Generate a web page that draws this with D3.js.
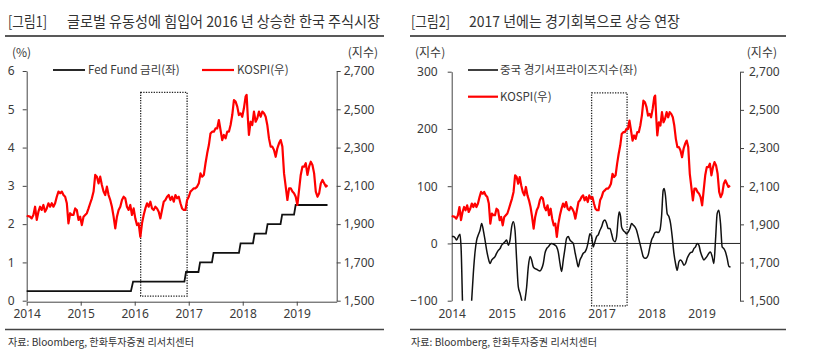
<!DOCTYPE html>
<html><head><meta charset="utf-8">
<script src="https://cdn.jsdelivr.net/npm/d3@7/dist/d3.min.js"></script>
<style>
html,body{margin:0;padding:0;background:#fff;}
svg{display:block;font-family:"Noto Sans CJK KR","Noto Sans",sans-serif;}
</style></head>
<body><svg id="c" width="822" height="357"></svg>
<script>
// ---------- DATA ----------
const yearTicks = [2014, 2015, 2016, 2017, 2018, 2019];
const fedTicks = [0, 1, 2, 3, 4, 5, 6];
const kospiTicks = [1500, 1700, 1900, 2100, 2300, 2500, 2700];
const surpriseTicks = [-100, 0, 100, 200, 300];

// KOSPI (decimal year, index)
const kospiT = [2014.000,2014.062,2014.093,2014.124,2014.155,2014.186,2014.217,2014.248,2014.278,2014.309,2014.340,2014.371,2014.402,2014.433,2014.464,2014.495,2014.526,2014.557,2014.588,2014.619,2014.650,2014.681,2014.712,2014.743,2014.773,2014.804,2014.835,2014.866,2014.897,2014.928,2014.959,2014.990,2015.021,2015.052,2015.083,2015.114,2015.145,2015.176,2015.207,2015.238,2015.269,2015.300,2015.330,2015.361,2015.392,2015.423,2015.454,2015.485,2015.516,2015.547,2015.578,2015.609,2015.640,2015.671,2015.702,2015.733,2015.764,2015.795,2015.825,2015.856,2015.887,2015.918,2015.949,2015.980,2016.011,2016.042,2016.073,2016.104,2016.135,2016.166,2016.197,2016.228,2016.259,2016.290,2016.321,2016.351,2016.382,2016.413,2016.444,2016.475,2016.506,2016.537,2016.568,2016.599,2016.630,2016.661,2016.692,2016.723,2016.754,2016.785,2016.816,2016.847,2016.877,2016.908,2016.939,2016.970,2017.001,2017.032,2017.063,2017.094,2017.125,2017.156,2017.187,2017.218,2017.249,2017.280,2017.311,2017.342,2017.373,2017.403,2017.434,2017.465,2017.496,2017.527,2017.558,2017.589,2017.620,2017.651,2017.682,2017.713,2017.744,2017.775,2017.806,2017.837,2017.868,2017.899,2017.929,2017.960,2017.991,2018.022,2018.053,2018.072,2018.097,2018.115,2018.146,2018.177,2018.208,2018.239,2018.270,2018.301,2018.332,2018.363,2018.394,2018.425,2018.455,2018.486,2018.517,2018.548,2018.579,2018.610,2018.641,2018.672,2018.703,2018.734,2018.765,2018.796,2018.827,2018.858,2018.889,2018.920,2018.950,2018.981,2019.012,2019.043,2019.074,2019.105,2019.136,2019.167,2019.198,2019.229,2019.260,2019.291,2019.322,2019.353,2019.384,2019.415,2019.446,2019.477,2019.508,2019.539,2019.569];
const kospiV = [1944,1939,1930,1948,1991,1922,1965,1991,1974,2000,1965,1982,2009,1991,2009,1991,2009,2043,2070,2061,2070,2052,2043,2009,1904,1957,1948,1948,1982,1974,1922,1939,1895,1939,1948,1957,1982,2009,2035,2070,2157,2148,2113,2148,2104,2070,2052,2096,2052,2026,1991,1939,1878,1939,1974,1991,2026,2043,2035,1991,1974,2000,1948,1982,1930,1895,1904,1834,1904,1948,1982,2009,1991,2017,1982,1974,1991,1982,1965,1930,1974,2017,2026,2043,2052,2026,2043,2017,2052,2035,2043,2009,1982,1974,1974,2026,2043,2070,2078,2087,2087,2096,2113,2165,2148,2157,2218,2270,2313,2374,2383,2383,2400,2400,2444,2392,2339,2366,2348,2383,2383,2418,2470,2548,2540,2514,2470,2479,2461,2505,2566,2575,2444,2366,2435,2418,2488,2435,2453,2488,2461,2488,2479,2461,2418,2348,2305,2305,2287,2252,2296,2322,2339,2305,2165,2096,2026,2087,2087,2070,2061,2043,2000,2078,2157,2200,2200,2218,2157,2200,2226,2209,2165,2070,2043,2061,2113,2131,2113,2096,2104];

// Fed Fund rate (decimal year, %)
const fedT = [2014.00,2015.93,2015.97,2016.92,2016.95,2017.18,2017.21,2017.43,2017.46,2017.93,2017.96,2018.19,2018.22,2018.43,2018.46,2018.70,2018.73,2018.95,2018.98,2019.57];
const fedV = [0.25,0.25,0.5,0.5,0.75,0.75,1.0,1.0,1.25,1.25,1.5,1.5,1.75,1.75,2.0,2.0,2.25,2.25,2.5,2.5];

// China economic surprise index (decimal year, index)
const csT = [2014.000,2014.033,2014.067,2014.100,2014.133,2014.167,2014.187,2014.233,2014.300,2014.367,2014.400,2014.433,2014.467,2014.500,2014.533,2014.567,2014.600,2014.633,2014.667,2014.700,2014.733,2014.767,2014.800,2014.833,2014.867,2014.900,2014.933,2014.967,2015.000,2015.033,2015.067,2015.100,2015.133,2015.167,2015.200,2015.233,2015.267,2015.300,2015.333,2015.367,2015.400,2015.433,2015.467,2015.500,2015.533,2015.567,2015.600,2015.633,2015.667,2015.700,2015.733,2015.767,2015.800,2015.833,2015.867,2015.900,2015.933,2015.967,2016.000,2016.033,2016.067,2016.100,2016.133,2016.167,2016.200,2016.233,2016.267,2016.300,2016.333,2016.367,2016.400,2016.433,2016.467,2016.500,2016.533,2016.567,2016.600,2016.633,2016.667,2016.700,2016.733,2016.767,2016.800,2016.833,2016.867,2016.900,2016.933,2016.967,2017.000,2017.033,2017.067,2017.100,2017.133,2017.167,2017.200,2017.233,2017.267,2017.300,2017.333,2017.353,2017.380,2017.400,2017.433,2017.467,2017.500,2017.533,2017.567,2017.600,2017.633,2017.667,2017.700,2017.733,2017.767,2017.800,2017.833,2017.867,2017.900,2017.933,2017.967,2018.000,2018.033,2018.067,2018.100,2018.133,2018.167,2018.200,2018.233,2018.253,2018.280,2018.313,2018.347,2018.380,2018.413,2018.447,2018.480,2018.513,2018.547,2018.580,2018.613,2018.647,2018.680,2018.713,2018.747,2018.780,2018.813,2018.847,2018.880,2018.913,2018.947,2018.980,2019.013,2019.047,2019.080,2019.113,2019.147,2019.180,2019.213,2019.247,2019.280,2019.313,2019.347,2019.380,2019.413,2019.447,2019.480,2019.513,2019.547,2019.580];
const csV = [12,12,10,6,12,16,-6,-140,-150,-140,-99,-52,-15,6,15,23,35,23,6,-12,-26,-35,-29,-26,-23,-17,-12,-9,-3,0,3,6,-3,6,29,38,23,-29,-76,-87,-99,-115,-99,-76,-41,-23,-29,-41,-44,-45,-47,-48,-44,-35,-17,-9,-6,-2,0,-1,-3,-6,-15,-35,-49,-29,-9,9,12,6,3,0,-15,-29,-41,-29,-23,-17,-15,-9,3,17,12,-6,3,12,15,23,29,38,41,35,26,26,17,6,3,12,44,55,47,29,23,20,17,20,26,35,32,29,23,12,0,-12,-23,-26,-25,-20,-6,6,12,19,20,19,23,47,93,96,82,52,47,35,12,-17,-35,-47,-32,-29,-32,-38,-35,-26,-20,-16,-15,-9,-6,0,-3,-15,-23,-29,-26,-22,-17,-15,-23,-35,6,52,58,35,-6,-9,-15,-26,-40,-41];

// highlighted periods [from, to] (decimal year) and value extents
const box1 = {x0: 2016.11, x1: 2016.97, y0: 0.12, y1: 5.44};
const box2 = {x0: 2016.80, x1: 2017.51, y0: -109, y1: 263};

// ---------- DRAW ----------
const svg = d3.select("#c");
const txtCol = "#3a3a3a";
const axCol = "#444";
const RED = "#ff0000";

function title(x, tag, text, tx, tlen, lineX0, lineX1) {
  svg.append("text").attr("x", x).attr("y", 27).attr("font-size", 15).attr("fill", "#333")
    .attr("textLength", 39).attr("lengthAdjust", "spacingAndGlyphs").text(tag);
  svg.append("text").attr("x", tx).attr("y", 27).attr("font-size", 15).attr("fill", "#333")
    .attr("textLength", tlen).attr("lengthAdjust", "spacingAndGlyphs").text(text);
  svg.append("line").attr("x1", lineX0).attr("x2", lineX1).attr("y1", 36).attr("y2", 36)
    .attr("stroke", "#222").attr("stroke-width", 1.3);
  svg.append("line").attr("x1", lineX0).attr("x2", lineX1).attr("y1", 329.5).attr("y2", 329.5)
    .attr("stroke", "#444").attr("stroke-width", 1.3);
  svg.append("text").attr("x", x).attr("y", 346).attr("font-size", 10.5).attr("fill", "#333")
    .attr("textLength", 186).attr("lengthAdjust", "spacingAndGlyphs").text("자료: Bloomberg, 한화투자증권 리서치센터");
}
title(8, "[그림1]", "글로벌 유동성에 힘입어 2016 년 상승한 한국 주식시장", 67, 313, 5, 384);
title(411, "[그림2]", "2017 년에는 경기회복으로 상승 연장", 469, 211, 410, 786);

function styleAxis(g) {
  g.selectAll("path.domain").attr("stroke", axCol).attr("stroke-width", 1);
  g.selectAll(".tick line").attr("stroke", axCol);
  g.selectAll(".tick text").attr("fill", txtCol).attr("font-size", 12)
    .attr("font-family", '"Noto Sans","Noto Sans CJK KR",sans-serif');
}

// ===== Chart 1 =====
{
  const x = d3.scaleLinear().domain([2014, 2019.74]).range([26.7, 336.7]);
  const yL = d3.scaleLinear().domain([0, 6]).range([300.7, 71]);
  const yR = d3.scaleLinear().domain([1500, 2700]).range([300.7, 71]);

  svg.append("text").attr("x", 12).attr("y", 57).attr("font-size", 12).attr("fill", txtCol).text("(%)");
  svg.append("text").attr("x", 378).attr("y", 57).attr("font-size", 12).attr("fill", txtCol)
    .attr("text-anchor", "end").text("(지수)");

  const gl = svg.append("g").attr("transform", `translate(${x.range()[0]},0)`)
    .call(d3.axisLeft(yL).tickValues(fedTicks).tickSize(4).tickSizeOuter(0).tickPadding(8).tickFormat(d3.format("d")));
  styleAxis(gl);
  const gr = svg.append("g").attr("transform", `translate(${x.range()[1]},0)`)
    .call(d3.axisRight(yR).tickValues(kospiTicks).tickSize(4).tickSizeOuter(0).tickPadding(3).tickFormat(d3.format(",")));
  styleAxis(gr);
  const gb = svg.append("g").attr("transform", `translate(0,${yL(0) + 1})`)
    .call(d3.axisBottom(x).tickValues(yearTicks).tickSize(4).tickSizeOuter(0).tickPadding(4).tickFormat(d3.format("d")));
  styleAxis(gb);

  // highlight box
  svg.append("rect").attr("x", x(box1.x0)).attr("y", yL(box1.y1))
    .attr("width", x(box1.x1) - x(box1.x0)).attr("height", yL(box1.y0) - yL(box1.y1))
    .attr("fill", "none").attr("stroke", "#222").attr("stroke-width", 1.3).attr("stroke-dasharray", "1.3,1.3");

  const fed = fedT.map((t, i) => [t, fedV[i]]);
  svg.append("path").datum(fed).attr("fill", "none").attr("stroke", "#111").attr("stroke-width", 1.8)
    .attr("d", d3.line().x(d => x(d[0])).y(d => yL(d[1])));

  const ks = kospiT.map((t, i) => [t, kospiV[i]]);
  svg.append("path").datum(ks).attr("fill", "none").attr("stroke", RED).attr("stroke-width", 2.2)
    .attr("stroke-linejoin", "round")
    .attr("d", d3.line().x(d => x(d[0])).y(d => yR(d[1])));

  // legend
  svg.append("line").attr("x1", 53).attr("x2", 85).attr("y1", 70).attr("y2", 70).attr("stroke", "#111").attr("stroke-width", 1.8);
  svg.append("text").attr("x", 88).attr("y", 74).attr("font-size", 11.5).attr("fill", txtCol).text("Fed Fund 금리(좌)");
  svg.append("line").attr("x1", 202).attr("x2", 234).attr("y1", 70).attr("y2", 70).attr("stroke", RED).attr("stroke-width", 2.2);
  svg.append("text").attr("x", 237).attr("y", 74).attr("font-size", 11.5).attr("fill", txtCol).text("KOSPI(우)");
}

// ===== Chart 2 =====
{
  const x = d3.scaleLinear().domain([2014, 2019.77]).range([451.7, 740]);
  const yL = d3.scaleLinear().domain([-100, 300]).range([300.7, 71.7]);
  const yR = d3.scaleLinear().domain([1500, 2700]).range([300.7, 71.7]);

  svg.append("text").attr("x", 415).attr("y", 57).attr("font-size", 12).attr("fill", txtCol).text("(지수)");
  svg.append("text").attr("x", 777).attr("y", 57).attr("font-size", 12).attr("fill", txtCol)
    .attr("text-anchor", "end").text("(지수)");

  const gl = svg.append("g").attr("transform", `translate(${x.range()[0]},0)`)
    .call(d3.axisLeft(yL).tickValues(surpriseTicks).tickSize(4).tickSizeOuter(0).tickPadding(10));
  styleAxis(gl);
  const gr = svg.append("g").attr("transform", `translate(${x.range()[1]},0)`)
    .call(d3.axisRight(yR).tickValues(kospiTicks).tickSize(4).tickSizeOuter(0).tickPadding(5).tickFormat(d3.format(",")));
  styleAxis(gr);
  const gb = svg.append("g").attr("transform", `translate(0,${yL(-100) + 1})`)
    .call(d3.axisBottom(x).tickValues(yearTicks).tickSize(0).tickPadding(8).tickFormat(d3.format("d")));
  styleAxis(gb);
  gb.select("path.domain").remove();

  // zero line
  svg.append("line").attr("x1", x.range()[0]).attr("x2", x.range()[1]).attr("y1", yL(0)).attr("y2", yL(0))
    .attr("stroke", "#222").attr("stroke-width", 1);

  svg.append("rect").attr("x", x(box2.x0)).attr("y", yL(box2.y1))
    .attr("width", x(box2.x1) - x(box2.x0)).attr("height", yL(box2.y0) - yL(box2.y1))
    .attr("fill", "none").attr("stroke", "#222").attr("stroke-width", 1.3).attr("stroke-dasharray", "1.3,1.3");

  svg.append("clipPath").attr("id", "clip2").append("rect")
    .attr("x", x.range()[0]).attr("y", yL(300) - 2).attr("width", x.range()[1] - x.range()[0]).attr("height", yL(-100) - yL(300) + 2);

  const ks = kospiT.map((t, i) => [t, kospiV[i]]);
  svg.append("path").datum(ks).attr("fill", "none").attr("stroke", RED).attr("stroke-width", 2.2)
    .attr("stroke-linejoin", "round")
    .attr("d", d3.line().x(d => x(d[0])).y(d => yR(d[1])));

  const cs = csT.map((t, i) => [t, csV[i]]);
  svg.append("path").datum(cs).attr("clip-path", "url(#clip2)").attr("fill", "none").attr("stroke", "#111").attr("stroke-width", 1.5)
    .attr("stroke-linejoin", "round")
    .attr("d", d3.line().curve(d3.curveMonotoneX).x(d => x(d[0])).y(d => yL(d[1])));

  svg.append("line").attr("x1", 468).attr("x2", 498).attr("y1", 70).attr("y2", 70).attr("stroke", "#111").attr("stroke-width", 1.6);
  svg.append("text").attr("x", 500).attr("y", 74).attr("font-size", 11.5).attr("fill", txtCol).text("중국 경기서프라이즈지수(좌)");
  svg.append("line").attr("x1", 468).attr("x2", 498).attr("y1", 96.7).attr("y2", 96.7).attr("stroke", RED).attr("stroke-width", 2.2);
  svg.append("text").attr("x", 500).attr("y", 100.7).attr("font-size", 11.5).attr("fill", txtCol).text("KOSPI(우)");
}
</script></body></html>
